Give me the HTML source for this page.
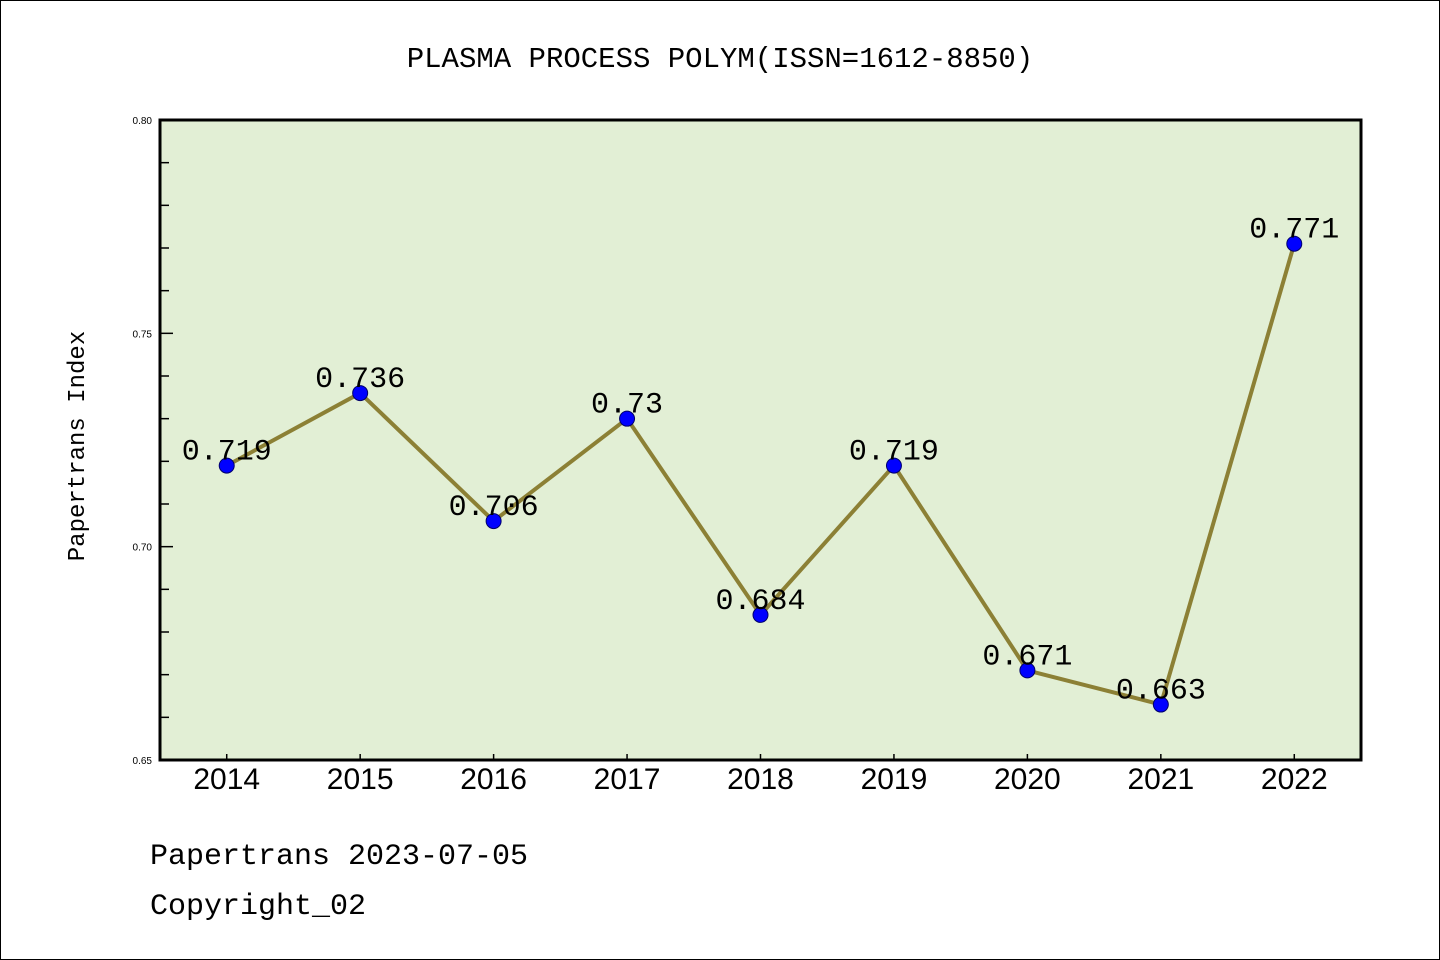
<!DOCTYPE html>
<html><head><meta charset="utf-8"><style>
html,body{margin:0;padding:0;background:#fff}
svg{display:block}
</style></head><body>
<svg id="chart" width="1440" height="960" xmlns="http://www.w3.org/2000/svg">
<rect x="0.5" y="0.5" width="1439" height="959" fill="#fff" stroke="#000" stroke-width="1"/>
<text x="720" y="67" text-anchor="middle" font-family="Liberation Mono, monospace" font-size="29">PLASMA PROCESS POLYM(ISSN=1612-8850)</text>
<rect x="160" y="120" width="1201" height="640" fill="#e2efd5"/>
<g id="axes"></g>
<g id="series"></g>
<rect x="160" y="120" width="1201" height="640" fill="none" stroke="#000" stroke-width="3"/>
<text transform="translate(84,446) rotate(-90)" text-anchor="middle" font-family="Liberation Mono, monospace" font-size="24">Papertrans Index</text>
<text x="150" y="864" font-family="Liberation Mono, monospace" font-size="30">Papertrans 2023-07-05</text>
<text x="150" y="914" font-family="Liberation Mono, monospace" font-size="30">Copyright_02</text>
</svg>
<script>
const years = ['2014','2015','2016','2017','2018','2019','2020','2021','2022'];
const values = [0.719,0.736,0.706,0.73,0.684,0.719,0.671,0.663,0.771];
const yTickLabels = ['0.65','0.70','0.75','0.80'];
const yMin = 0.65, yMax = 0.80;
const L=160,R=1361,T=120,B=760;
const step=(R-L)/years.length;
function xs(i){return L+step*(i+0.5);}
function ys(v){return B-(v-yMin)/(yMax-yMin)*(B-T);}
const NS='http://www.w3.org/2000/svg';
function mk(tag,attrs,parent){const e=document.createElementNS(NS,tag);for(const k in attrs)e.setAttribute(k,attrs[k]);parent.appendChild(e);return e;}
const axes=document.getElementById('axes'), series=document.getElementById('series');
for(let k=0;k<=15;k++){
  const v=yMin+k*0.01, y=ys(v), major=k%5===0;
  const t=mk('line',{x1:L,x2:L+(major?13:9),y1:y,y2:y,stroke:'#000','stroke-width':1.5},axes);
  
  
}
yTickLabels.forEach(s=>{
  const t=mk('text',{x:152,y:ys(parseFloat(s))+4,'text-anchor':'end','font-family':'Liberation Sans, sans-serif','font-size':10},axes);
  t.textContent=s;
  
  
});
years.forEach((yr,i)=>{
  const tk=mk('line',{x1:xs(i),x2:xs(i),y1:B,y2:B-6,stroke:'#000','stroke-width':1.5},axes);
  
  
  const t=mk('text',{x:xs(i),y:789,'text-anchor':'middle','font-family':'Liberation Sans, sans-serif','font-size':30},axes);
  t.textContent=yr;
  
  
});
const pts=values.map((v,i)=>xs(i)+','+ys(v)).join(' ');
const line=mk('polyline',{points:pts,fill:'none',stroke:'#8c8035','stroke-width':4,'stroke-linejoin':'round'},series);


values.forEach((v,i)=>{
  const c=mk('circle',{cx:xs(i),cy:ys(v),r:7.5,fill:'#0000ff',stroke:'#00006a','stroke-width':1},series);
  
  
});
values.forEach((v,i)=>{
  const t=mk('text',{x:xs(i),y:ys(v)-6,'text-anchor':'middle','font-family':'Liberation Mono, monospace','font-size':30},series);
  t.textContent=String(v);
  
  
});
</script>
</body></html>
